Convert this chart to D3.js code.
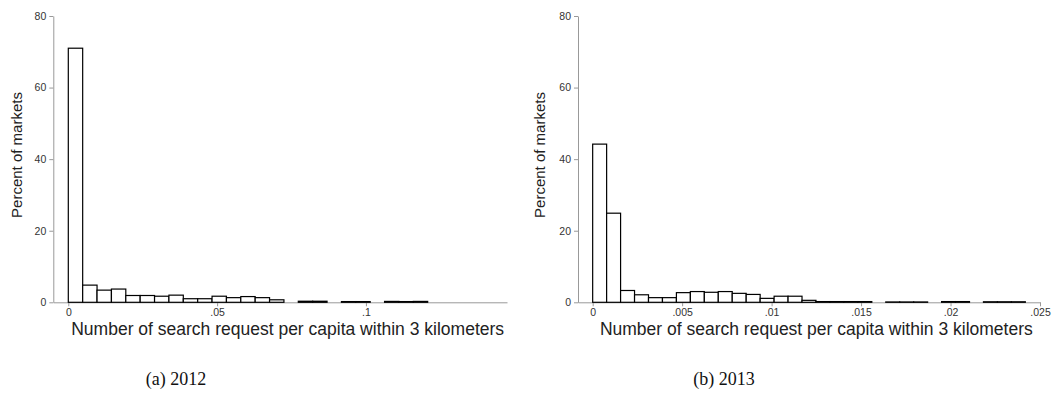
<!DOCTYPE html>
<html>
<head>
<meta charset="utf-8">
<script src="https://cdn.jsdelivr.net/npm/d3@7"></script>
<style>
  body { margin: 0; background: #fff; }
  svg { display: block; }
  .tick text { font-family: "Liberation Sans", Arial, sans-serif; font-size: 10.5px; fill: #333; }
  .axis path, .axis line { stroke: #999; }
  .ttl { font-family: "Liberation Sans", Arial, sans-serif; fill: #222; }
  .cap { font-family: "Liberation Serif", "DejaVu Serif", serif; font-size: 18px; fill: #111; }
</style>
</head>
<body>
<svg width="1060" height="408"></svg>
<script>
// 2012 panel: 25 bins from 0, percent of markets
var bins2012 = [71, 4.8, 3.4, 3.7, 1.9, 1.9, 1.7, 2.0, 1.0, 1.0, 1.7, 1.3, 1.6, 1.3, 0.7,
                0, 0.3, 0.3, 0, 0.2, 0.2, 0, 0.25, 0.2, 0.25];
var width2012 = 0.00483;
var ticks2012 = [0, 0.05, 0.1];

// 2013 panel: 31 bins from 0
var bins2013 = [44.2, 24.9, 3.3, 2.1, 1.3, 1.3, 2.7, 3.0, 2.8, 3.0, 2.5, 2.2, 1.1, 1.7, 1.7,
                0.55, 0.2, 0.2, 0.2, 0.2, 0, 0.1, 0.1, 0.1, 0, 0.2, 0.2, 0, 0.15, 0.15, 0.15];
var width2013 = 0.00078;
var ticks2013 = [0, 0.005, 0.01, 0.015, 0.02, 0.025];

var yTicks = [0, 20, 40, 60, 80];
var captions = ["(a) 2012", "(b) 2013"];

var svg = d3.select("svg");

var panels = [
  { bins: bins2012, bw: width2012, ticks: ticks2012, xdom: [-0.00504, 0.1474], xr: [53.3, 507], ytx: 17, cap: captions[0], capx: 176 },
  { bins: bins2013, bw: width2013, ticks: ticks2013, xdom: [-0.00082, 0.025], xr: [578, 1040], ytx: 540, cap: captions[1], capx: 724 }
];

var y = d3.scaleLinear().domain([0, 80]).range([302.3, 16]);

function fmt(d) {
  return d === 0 ? "0" : String(d).replace(/^0\./, ".");
}

panels.forEach(function(p) {
  var x = d3.scaleLinear().domain(p.xdom).range(p.xr);
  var g = svg.append("g");

  g.append("g")
    .attr("class", "axis")
    .attr("transform", "translate(" + p.xr[0] + ",0)")
    .call(d3.axisLeft(y).tickValues(yTicks).tickSize(4).tickSizeOuter(0).tickPadding(3));

  g.append("g")
    .attr("class", "axis")
    .attr("transform", "translate(0," + y(0) + ")")
    .call(d3.axisBottom(x).tickValues(p.ticks).tickFormat(fmt).tickSize(4).tickSizeOuter(0).tickPadding(2));

  g.append("g").selectAll("rect")
    .data(p.bins)
    .join("rect")
      .attr("x", function(d, i) { return x(i * p.bw); })
      .attr("width", function() { return x(p.bw) - x(0); })
      .attr("y", function(d) { return y(d); })
      .attr("height", function(d) { return y(0) - y(d); })
      .attr("fill", "#fff")
      .attr("stroke", "#000")
      .attr("stroke-width", 1.2)
      .style("display", function(d) { return d > 0 ? null : "none"; });

  var cx = (x(0) + p.xr[1]) / 2;
  g.append("text")
    .attr("class", "ttl")
    .attr("font-size", 17.5)
    .attr("text-anchor", "middle")
    .attr("x", cx)
    .attr("y", 335)
    .text("Number of search request per capita within 3 kilometers");

  g.append("text")
    .attr("class", "ttl")
    .attr("font-size", 15)
    .attr("text-anchor", "middle")
    .attr("transform", "translate(" + (p.ytx + 5) + ",155) rotate(-90)")
    .text("Percent of markets");

  g.append("text")
    .attr("class", "cap")
    .attr("text-anchor", "middle")
    .attr("x", p.capx)
    .attr("y", 385)
    .text(p.cap);
});
</script>
</body>
</html>
